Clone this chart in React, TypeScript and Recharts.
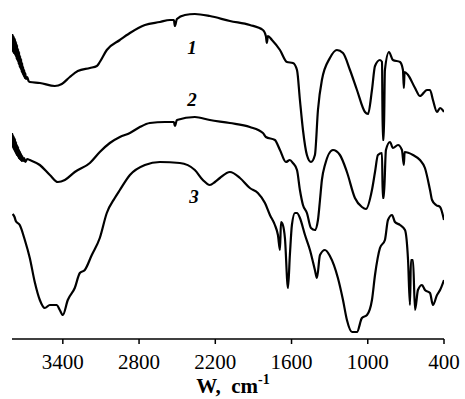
import React from "react";
import { LineChart, Line, XAxis, YAxis, ReferenceDot } from "recharts";

// wavenumber (cm-1), transmittance in arbitrary stacked units
const spectrum1: [number, number][] = [
  [3800, 305], [3796, 288], [3792, 304], [3788, 286], [3784, 302], [3780, 285],
  [3776, 300], [3772, 283], [3768, 297], [3764, 280], [3760, 294], [3756, 278],
  [3752, 290], [3748, 275], [3744, 287], [3740, 272], [3736, 283], [3732, 270],
  [3728, 280], [3724, 267], [3720, 276], [3716, 265], [3712, 272], [3708, 263],
  [3704, 269], [3700, 261], [3696, 266], [3690, 260], [3680, 262], [3670, 258],
  [3660, 257], [3580, 256], [3463, 253], [3408, 255], [3345, 262],
  [3282, 268], [3187, 271], [3132, 273], [3109, 277], [3054, 289], [2951, 299],
  [2872, 306], [2754, 314], [2636, 317], [2557, 319], [2526, 319], [2518, 313],
  [2502, 320], [2439, 324], [2361, 325], [2243, 323], [2085, 318], [1928, 314],
  [1825, 309], [1802, 303], [1794, 296], [1786, 303], [1754, 299], [1691, 289],
  [1636, 277], [1589, 276], [1557, 269], [1534, 239], [1510, 209], [1479, 184],
  [1447, 177], [1416, 184], [1392, 229], [1361, 259], [1298, 281], [1243, 289],
  [1195, 286], [1140, 269], [1085, 249], [1022, 227], [998, 225], [967, 249],
  [943, 273], [904, 279], [888, 277], [882, 199], [874, 199], [865, 269],
  [833, 287], [802, 279], [746, 277], [723, 269], [716, 251], [710, 267],
  [683, 264], [628, 251], [589, 243], [534, 249], [510, 249], [487, 239],
  [455, 227], [431, 231], [400, 227],
];

const spectrum2: [number, number][] = [
  [3800, 206], [3796, 192], [3792, 204], [3788, 190], [3784, 202], [3780, 188],
  [3776, 200], [3772, 186], [3768, 197], [3764, 184], [3760, 194], [3756, 183],
  [3752, 192], [3748, 181], [3744, 189], [3740, 180], [3736, 187], [3732, 179],
  [3728, 185], [3724, 178], [3720, 183], [3712, 178], [3704, 181], [3696, 177],
  [3680, 180], [3660, 179], [3581, 174], [3502, 164],
  [3439, 157], [3384, 159], [3306, 167], [3187, 176], [3109, 187], [3030, 196],
  [2951, 202], [2872, 206], [2794, 212], [2715, 216], [2597, 217], [2526, 217],
  [2518, 213], [2502, 219], [2361, 222], [2243, 219], [2085, 216], [1928, 212],
  [1825, 206], [1802, 202], [1731, 199], [1691, 189], [1644, 177], [1613, 179],
  [1589, 176], [1557, 169], [1534, 149], [1510, 134], [1479, 126], [1447, 111],
  [1416, 109], [1392, 119], [1376, 139], [1361, 159], [1337, 174], [1274, 189],
  [1219, 184], [1164, 167], [1101, 141], [1046, 132], [1014, 130], [967, 149],
  [943, 167], [920, 184], [888, 186], [882, 141], [874, 141], [857, 189],
  [825, 197], [802, 191], [762, 194], [731, 189], [716, 174], [710, 187],
  [644, 184], [589, 179], [550, 171], [510, 149], [494, 139], [463, 134],
  [431, 132], [400, 119],
];

const spectrum3: [number, number][] = [
  [3795, 125], [3780, 122], [3770, 118], [3739, 114], [3699, 99], [3660, 81],
  [3621, 57], [3581, 39], [3542, 31], [3502, 34], [3447, 34], [3424, 29],
  [3400, 24], [3361, 39], [3306, 51], [3266, 66], [3227, 69], [3172, 84],
  [3109, 101], [3054, 126], [2991, 141], [2951, 149], [2872, 164], [2754, 174],
  [2636, 177], [2479, 176], [2361, 169], [2298, 159], [2243, 154], [2203, 157],
  [2164, 161], [2085, 167], [2006, 161], [1928, 151], [1865, 146], [1809, 136],
  [1770, 124], [1731, 114], [1707, 104], [1691, 89], [1683, 117], [1668, 114],
  [1652, 101], [1628, 51], [1613, 84], [1597, 114], [1573, 126], [1557, 126],
  [1534, 121], [1494, 104], [1455, 89], [1416, 69], [1400, 61], [1376, 84],
  [1337, 89], [1298, 83], [1235, 61], [1195, 39], [1164, 19], [1124, 7],
  [1085, 7], [1046, 21], [1006, 24], [967, 39], [943, 64], [904, 91],
  [865, 99], [841, 119], [809, 124], [786, 117], [746, 114], [707, 109],
  [683, 79], [668, 34], [660, 79], [644, 79], [628, 29], [605, 49],
  [573, 54], [550, 49], [510, 46], [487, 34], [455, 44], [431, 49], [400, 59],
];

const xTicks = [3400, 2800, 2200, 1600, 1000, 400];

const curveLabels = [
  { name: "1", wn: 2384, t: 292 },
  { name: "2", wn: 2384, t: 240 },
  { name: "3", wn: 2368, t: 143 },
];

const toRows = (s: [number, number][]) => s.map(([wn, t]) => ({ wn, t }));

const serif = "'Liberation Serif', 'Times New Roman', serif";

function AxisTitle(props: any) {
  const vb = props.viewBox || { x: 0, y: 0, width: 0 };
  return (
    <text
      x={vb.x + vb.width / 2 + 5}
      y={vb.y + 54}
      textAnchor="middle"
      fontFamily={serif}
      fontWeight="bold"
      fontSize={21}
      fill="#000"
    >
      {"W,\u00a0\u00a0cm"}
      <tspan dy={-9} fontSize={14}>-1</tspan>
    </text>
  );
}

export default function App() {
  return (
    <div style={{ position: "absolute", left: 0, top: 0, width: 465, height: 399, background: "#fff" }}>
      <LineChart width={465} height={399} margin={{ top: 0, right: 21, bottom: 0, left: 12 }}>
        <XAxis
          dataKey="wn"
          type="number"
          domain={[400, 3800]}
          reversed
          allowDataOverflow
          ticks={xTicks}
          height={60}
          tick={{ fill: "#000", fontSize: 21, fontFamily: serif }}
          tickSize={5}
          tickMargin={10}
          axisLine={{ stroke: "#000", strokeWidth: 1.5 }}
          tickLine={{ stroke: "#000", strokeWidth: 1.5 }}
          label={{ content: (p: any) => <AxisTitle {...p} /> }}
        />
        <YAxis type="number" domain={[0, 339]} hide allowDataOverflow />
        <Line data={toRows(spectrum1)} dataKey="t" type="monotoneX" stroke="#000" strokeWidth={2.2} dot={false} isAnimationActive={false} />
        <Line data={toRows(spectrum2)} dataKey="t" type="monotoneX" stroke="#000" strokeWidth={2.2} dot={false} isAnimationActive={false} />
        <Line data={toRows(spectrum3)} dataKey="t" type="monotoneX" stroke="#000" strokeWidth={2.2} dot={false} isAnimationActive={false} />
        {curveLabels.map((c) => (
          <ReferenceDot
            key={c.name}
            x={c.wn}
            y={c.t}
            r={0}
            fill="none"
            stroke="none"
            ifOverflow="visible"
            label={{
              value: c.name,
              position: "center",
              fill: "#000",
              fontSize: 19,
              fontStyle: "italic",
              fontWeight: "bold",
              fontFamily: serif,
            }}
          />
        ))}
      </LineChart>
    </div>
  );
}
